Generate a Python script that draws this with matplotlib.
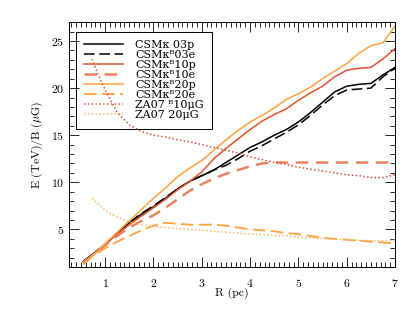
import numpy as np
import matplotlib
matplotlib.use("Agg")
import matplotlib.pyplot as plt
from matplotlib.ticker import MultipleLocator

plt.rcParams['font.family'] = ['cmr10', 'DejaVu Serif', 'DejaVu Sans']
plt.rcParams['mathtext.fontset'] = 'cm'
plt.rcParams['axes.formatter.use_mathtext'] = True

# radius grid (pc)
r = [0.55, 0.75, 1.0, 1.25, 1.5, 1.75, 2.0, 2.25, 2.5, 2.75, 3.0, 3.25, 3.5, 3.75,
     4.0, 4.25, 4.5, 4.75, 5.0, 5.25, 5.5, 5.75, 6.0, 6.25, 6.5, 6.75, 7.0]

csm03p = [1.6, 2.4, 3.4, 4.6, 5.7, 6.6, 7.4, 8.3, 9.3, 10.1, 10.7, 11.3, 12.1, 12.9,
          13.7, 14.3, 15.0, 15.6, 16.4, 17.4, 18.5, 19.6, 20.2, 20.4, 20.5, 21.4, 22.2]
csm03e = [1.6, 2.4, 3.4, 4.6, 5.7, 6.7, 7.5, 8.4, 9.3, 10.1, 10.7, 11.3, 11.8, 12.5,
          13.3, 13.9, 14.6, 15.3, 16.1, 17.1, 18.2, 19.2, 19.8, 19.9, 20.0, 21.2, 22.1]
csm10p = [1.5, 2.3, 3.4, 4.5, 5.5, 6.4, 7.3, 8.2, 9.2, 10.1, 11.1, 12.5, 13.6, 14.6,
          15.6, 16.5, 17.2, 17.8, 18.7, 19.5, 20.2, 21.2, 21.9, 22.1, 22.2, 23.1, 24.2]
csm10e = [1.5, 2.3, 3.3, 4.3, 5.2, 5.9, 6.5, 7.3, 8.2, 9.1, 9.8, 10.4, 10.9, 11.3,
          11.7, 12.0, 12.1, 12.1, 12.1, 12.1, 12.1, 12.1, 12.1, 12.1, 12.1, 12.1, 12.1]
csm20p = [1.3, 2.3, 3.5, 4.7, 5.9, 7.1, 8.3, 9.4, 10.6, 11.5, 12.3, 13.4, 14.5, 15.5,
          16.4, 17.1, 17.9, 18.8, 19.4, 20.1, 21.0, 21.8, 22.6, 23.7, 24.5, 24.8, 26.6]
csm20e = [1.3, 2.2, 3.0, 3.7, 4.3, 4.9, 5.4, 5.7, 5.6, 5.5, 5.5, 5.5, 5.4, 5.2,
          5.0, 4.9, 4.8, 4.6, 4.5, 4.3, 4.1, 4.0, 3.9, 3.8, 3.7, 3.6, 3.5]

# ZA07 curves start a bit further out
r_za = [0.73, 0.85, 1.0, 1.25, 1.5, 1.75, 2.0, 2.25, 2.5, 2.75, 3.0, 3.25, 3.5, 3.75,
        4.0, 4.25, 4.5, 4.75, 5.0, 5.25, 5.5, 5.75, 6.0, 6.25, 6.5, 6.75, 7.0]
za10 = [23.1, 21.5, 19.8, 17.4, 16.1, 15.4, 15.0, 14.8, 14.5, 14.3, 14.0, 13.7, 13.4, 13.1,
        12.7, 12.4, 12.1, 11.9, 11.6, 11.4, 11.2, 11.0, 10.8, 10.7, 10.5, 10.5, 10.8]
za20 = [8.3, 7.7, 7.0, 6.3, 5.8, 5.5, 5.3, 5.2, 5.1, 5.0, 4.9, 4.8, 4.7, 4.6,
        4.5, 4.45, 4.35, 4.3, 4.2, 4.1, 4.05, 4.0, 3.9, 3.85, 3.8, 3.8, 3.85]

labels = ['CSMκ 03p', 'CSMκᴮ03e', 'CSMκᴮ10p', 'CSMκᴮ10e',
          'CSMκᴮ20p', 'CSMκᴮ20e', 'ZA07 ᴮ10μG', 'ZA07 20μG']

red = '#e2532b'
salmon = '#e6835f'
orange = '#ffa23c'
lorange = '#ffb466'

fig = plt.figure(figsize=(4.15, 3.12), dpi=100)
ax = fig.add_axes([0.166, 0.144, 0.786, 0.785])

ax.plot(r, csm03p, color='black', lw=1.1, label=labels[0])
ax.plot(r, csm03e, color='black', lw=1.1, ls=(0, (7, 3)), label=labels[1])
ax.plot(r, csm10p, color=red, lw=1.1, label=labels[2])
ax.plot(r, csm10e, color=salmon, lw=1.8, ls=(0, (5, 3)), label=labels[3])
ax.plot(r, csm20p, color=orange, lw=1.1, label=labels[4])
ax.plot(r, csm20e, color=orange, lw=1.3, ls=(0, (7, 3)), label=labels[5])
ax.plot(r_za, za10, color=red, lw=1.1, ls=(0, (1, 1.5)), label=labels[6])
ax.plot(r_za, za20, color=lorange, lw=1.1, ls=(0, (1, 1.5)), label=labels[7])

ax.set_xlim(0.25, 7)
ax.set_ylim(1, 27)
ax.xaxis.set_major_locator(MultipleLocator(1))
ax.xaxis.set_minor_locator(MultipleLocator(0.1))
ax.yaxis.set_major_locator(MultipleLocator(5))
ax.yaxis.set_minor_locator(MultipleLocator(1))
ax.tick_params(which='both', direction='in', top=True, right=True, labelsize=8.5, width=0.6)
ax.tick_params(which='major', length=7)
ax.tick_params(which='minor', length=3.5)
ax.tick_params(axis='x', pad=7)
for s in ax.spines.values():
    s.set_linewidth(0.7)

ax.set_xlabel('R (pc)', fontsize=8.5, labelpad=-1)
ax.set_ylabel(r'E (TeV)/B ($\mu$G)', fontsize=8.5, labelpad=4)

leg = ax.legend(loc='upper left', bbox_to_anchor=(0.021, 0.96),
                prop={'family': ['DejaVu Serif', 'DejaVu Sans'], 'size': 8.0},
                handlelength=3.5, labelspacing=0.0, borderpad=0.75, fancybox=False,
                framealpha=1, edgecolor='black', handletextpad=1.1, borderaxespad=0)
leg.get_frame().set_linewidth(0.7)
leg.set_zorder(1)

fig.savefig('out.png', dpi=100)
